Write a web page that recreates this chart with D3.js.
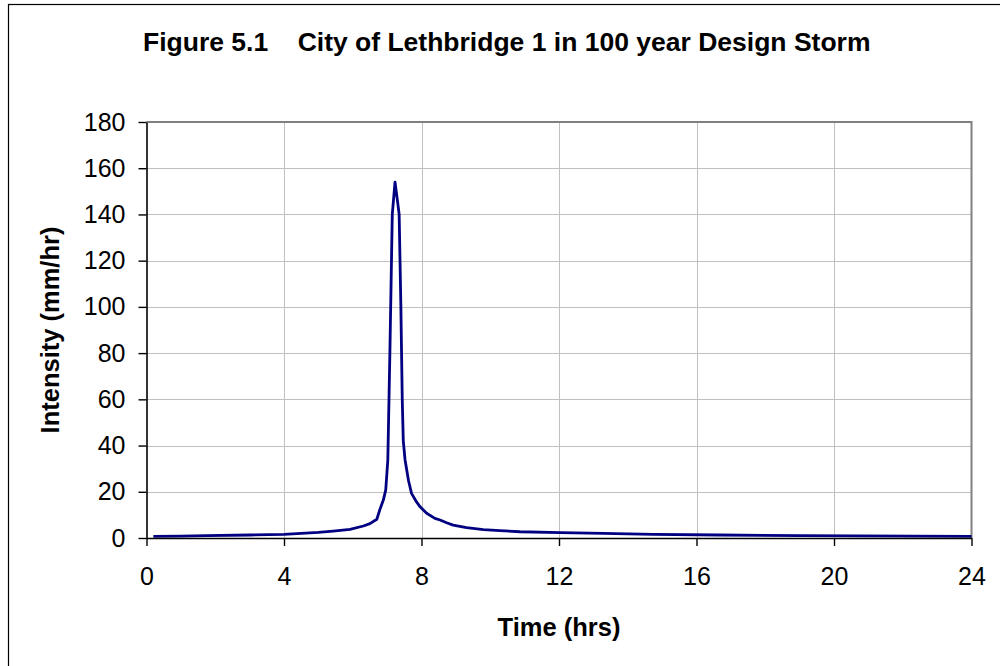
<!DOCTYPE html>
<html>
<head>
<meta charset="utf-8">
<script src="https://cdn.jsdelivr.net/npm/d3@7"></script>
<style>
  html, body { margin: 0; padding: 0; background: #fff; }
  svg { display: block; font-family: "Liberation Sans", Arial, sans-serif; }
</style>
</head>
<body>
<svg id="chart" width="1000" height="666"></svg>
<script>
// ---- data ----
const timeHrs = [0.2, 1.0, 1.75, 3.0, 4.0, 4.5, 5.0, 5.43, 5.92, 6.31, 6.5, 6.70, 6.80, 6.89, 6.96, 7.02, 7.08, 7.15, 7.23,
                 7.30, 7.35, 7.40, 7.44, 7.47, 7.52, 7.62, 7.71, 7.86, 7.96, 8.15, 8.39, 8.54, 8.73, 8.92, 9.31, 9.80,
                 10.28, 10.87, 12.03, 13.29, 14.74, 16.68, 19.0, 24.0];
const intensity = [0.7, 0.8, 1.0, 1.3, 1.6, 2.0, 2.4, 3.0, 3.7, 5.2, 6.2, 8.1, 12.8, 16.4, 20.8, 33.7, 80, 140, 154,
                   146, 140, 100, 60, 42, 34, 25, 19.3, 15.5, 13.5, 10.7, 8.5, 7.8, 6.6, 5.6, 4.5, 3.6,
                   3.2, 2.7, 2.3, 2.0, 1.6, 1.3, 1.0, 0.7];
const xTicks = [0, 4, 8, 12, 16, 20, 24];
const yTicks = [0, 20, 40, 60, 80, 100, 120, 140, 160, 180];
const titleText = "Figure 5.1    City of Lethbridge 1 in 100 year Design Storm";
const xTitle = "Time (hrs)";
const yTitle = "Intensity (mm/hr)";

// ---- layout ----
const svg = d3.select("#chart");
const L = 146.5, R = 971.5, T = 122, B = 538;

const x = d3.scaleLinear().domain([0, 24]).range([L, R]);
const y = d3.scaleLinear().domain([0, 180]).range([B, T]);

// outer chart border
svg.append("rect").attr("x", 8.5).attr("y", 4.5).attr("width", 1000).attr("height", 700)
  .attr("fill", "#fff").attr("stroke", "#000").attr("stroke-width", 1.2);

// plot area
svg.append("rect").attr("x", L).attr("y", T).attr("width", R - L).attr("height", B - T)
  .attr("fill", "#fff");

// gridlines
svg.append("g").selectAll("line").data(yTicks.filter(d => d > 0 && d < 180)).join("line")
  .attr("x1", L).attr("x2", R).attr("y1", d => Math.round(y(d)) + 0.5).attr("y2", d => Math.round(y(d)) + 0.5)
  .attr("stroke", "#c0c0c0").attr("stroke-width", 1);
svg.append("g").selectAll("line").data(xTicks.filter(d => d > 0 && d < 24)).join("line")
  .attr("y1", T).attr("y2", B).attr("x1", d => Math.round(x(d)) + 0.5).attr("x2", d => Math.round(x(d)) + 0.5)
  .attr("stroke", "#c0c0c0").attr("stroke-width", 1);

// plot area border (top and right gray)
svg.append("path")
  .attr("d", `M${L},${T}H${R}V${B}`)
  .attr("fill", "none").attr("stroke", "#808080").attr("stroke-width", 2);

// series line
const line = d3.line().x((d, i) => x(timeHrs[i])).y(d => y(d)).curve(d3.curveLinear);
svg.append("path").datum(intensity)
  .attr("d", line)
  .attr("fill", "none").attr("stroke", "#000080").attr("stroke-width", 2.8)
  .attr("stroke-linejoin", "round");

// axes
const xAxis = d3.axisBottom(x).tickValues(xTicks).tickSizeInner(8).tickSizeOuter(0).tickPadding(21);
const yAxis = d3.axisLeft(y).tickValues(yTicks).tickSizeInner(8).tickSizeOuter(0).tickPadding(13);

const gx = svg.append("g").attr("transform", `translate(0,${B})`).call(xAxis);
const gy = svg.append("g").attr("transform", `translate(${L},0)`).call(yAxis);
[gx, gy].forEach(g => {
  g.select(".domain").attr("stroke", "#000").attr("stroke-width", 1.6);
  g.selectAll(".tick line").attr("stroke", "#000").attr("stroke-width", 1.4);
  g.selectAll(".tick text").attr("fill", "#000")
    .style("font-family", '"Liberation Sans", Arial, sans-serif').style("font-size", "25px");
});

// titles
svg.append("text").attr("x", 143).attr("y", 51)
  .attr("font-size", 26.5).attr("font-weight", "bold").attr("fill", "#000")
  .style("white-space", "pre").attr("xml:space", "preserve")
  .text(titleText);

svg.append("text").attr("x", (L + R) / 2).attr("y", 636)
  .attr("text-anchor", "middle").attr("font-size", 25.5).attr("font-weight", "bold").attr("fill", "#000")
  .text(xTitle);

svg.append("text").attr("transform", `translate(59,${(T + B) / 2}) rotate(-90)`)
  .attr("text-anchor", "middle").attr("font-size", 25.5).attr("font-weight", "bold").attr("fill", "#000")
  .text(yTitle);
</script>
</body>
</html>
